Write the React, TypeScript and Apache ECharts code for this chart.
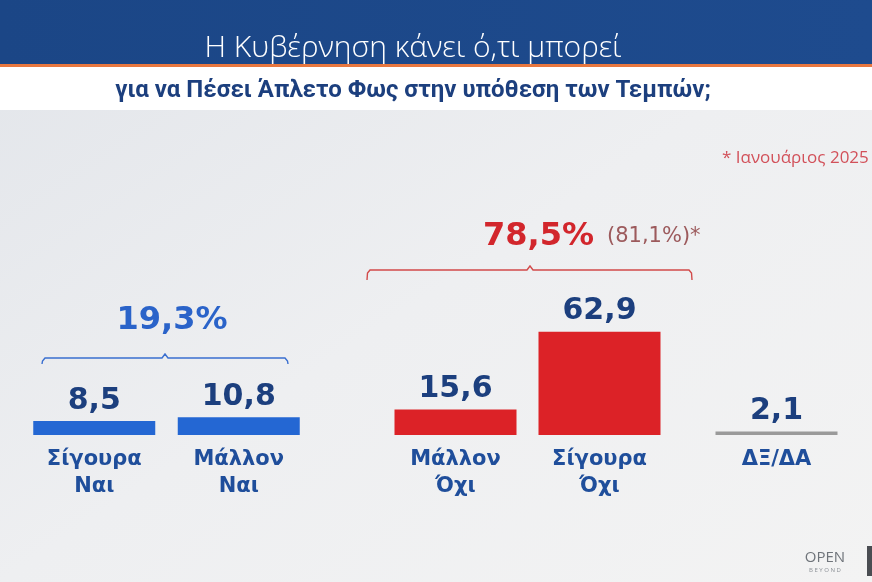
import React, { useEffect, useRef } from "react";
import * as echarts from "echarts";

const categories = ["Σίγουρα\nΝαι", "Μάλλον\nΝαι", "Μάλλον\nΌχι", "Σίγουρα\nΌχι", "ΔΞ/ΔΑ"];
const values = [8.5, 10.8, 15.6, 62.9, 2.1];
const yesTotal = 19.3;
const noTotal = 78.5;
const noTotalJanuary = 81.1;
const titleText = "Η Κυβέρνηση κάνει ό,τι μπορεί";
const subtitleText = "για να Πέσει Άπλετο Φως στην υπόθεση των Τεμπών;";
const noteText = "* Ιανουάριος 2025";

const fmt = (v: number) => v.toFixed(1).replace(".", ",");

const W = 872;
const H = 582;
const NAVY = "#1c3f7e";
const CAT = "#1f4e9b";
const BLUE = "#2467d3";
const RED = "#dc2227";
const GRAY = "#9a9a9a";
const FONT = "'Open Sans', 'Noto Sans', sans-serif";
const WIDE = "'DejaVu Sans', 'Open Sans', sans-serif";

export default function App() {
  const ref = useRef<HTMLDivElement>(null);
  useEffect(() => {
    if (!ref.current) return;
    const chart = echarts.init(ref.current, undefined, { renderer: "svg" });
    const gridBottom = 147;
    const gridHeight = 164;
    const grids = [
      { left: 22, width: 289 },
      { left: 383.5, width: 288 },
      { left: 704.5, width: 144 },
    ].map((g) => ({ ...g, bottom: gridBottom, height: gridHeight }));
    const groups = [
      { cats: categories.slice(0, 2), vals: values.slice(0, 2), color: BLUE },
      { cats: categories.slice(2, 4), vals: values.slice(2, 4), color: RED },
      { cats: categories.slice(4, 5), vals: values.slice(4, 5), color: GRAY },
    ];
    const xAxis = groups.map((g, i) => ({
      type: "category",
      gridIndex: i,
      data: g.cats,
      axisLine: { show: false },
      axisTick: { show: false },
      axisLabel: {
        color: CAT,
        fontSize: 21,
        fontWeight: "bold",
        fontFamily: WIDE,
        lineHeight: 27,
        margin: 9,
        interval: 0,
      },
    }));
    const yAxis = groups.map((_, i) => ({
      type: "value",
      gridIndex: i,
      min: 0,
      max: 100,
      show: false,
      splitLine: { show: false },
    }));
    const series = groups.map((g, i) => ({
      type: "bar",
      xAxisIndex: i,
      yAxisIndex: i,
      data: g.vals,
      barWidth: 122,
      itemStyle: { color: g.color },
      label: {
        show: true,
        position: "top",
        distance: 8,
        color: NAVY,
        fontSize: 30,
        fontWeight: "bold",
        fontFamily: WIDE,
        formatter: (p: any) => fmt(p.value),
      },
    }));

    const bracket = (x1: number, x2: number, xm: number, y: number, drop: number, color: string) => ({
      type: "polyline",
      z: 5,
      shape: {
        points: [
          [x1, y + drop],
          [x1 + 0.5, y + 3],
          [x1 + 3, y],
          [xm - 3, y],
          [xm, y - 4],
          [xm + 3, y],
          [x2 - 3, y],
          [x2 - 0.5, y + 3],
          [x2, y + drop],
        ],
      },
      style: { stroke: color, lineWidth: 1.4, fill: null },
    });

    const option = {
      animation: false,
      grid: grids,
      xAxis,
      yAxis,
      series,
      graphic: [
        {
          type: "rect",
          z: -10,
          shape: { x: 0, y: 0, width: W, height: H },
          style: {
            fill: new echarts.graphic.LinearGradient(0, 0, 1, 1, [
              { offset: 0, color: "#e2e5ea" },
              { offset: 0.5, color: "#eeeff1" },
              { offset: 1, color: "#f3f3f3" },
            ]),
          },
        },
        {
          type: "rect",
          z: -9,
          shape: { x: 0, y: 66, width: W, height: 44 },
          style: { fill: "#ffffff" },
        },
        {
          type: "rect",
          z: -8,
          shape: { x: 0, y: 0, width: W, height: 64 },
          style: {
            fill: new echarts.graphic.LinearGradient(0, 0, 1, 0, [
              { offset: 0, color: "#1b4686" },
              { offset: 1, color: "#1e4b8e" },
            ]),
          },
        },
        {
          type: "rect",
          z: -8,
          shape: { x: 0, y: 64, width: W, height: 3 },
          style: { fill: "#e8773f" },
        },
        {
          type: "text",
          z: 5,
          x: 413,
          y: 45,
          style: {
            text: titleText,
            fill: "#ffffff",
            fontSize: 30,
            fontWeight: 300,
            fontFamily: FONT,
            align: "center",
            verticalAlign: "middle",
          },
        },
        {
          type: "text",
          z: 5,
          x: 413,
          y: 89,
          style: {
            text: subtitleText,
            fill: NAVY,
            fontSize: 24,
            fontWeight: "bold",
            fontFamily: "Roboto, 'Noto Sans', sans-serif",
            align: "center",
            verticalAlign: "middle",
          },
        },
        {
          type: "text",
          z: 5,
          x: 722,
          y: 156,
          style: {
            text: noteText,
            fill: "#d2515a",
            fontSize: 17,
            fontFamily: FONT,
            align: "left",
            verticalAlign: "middle",
          },
        },
        bracket(42, 288, 165, 358, 6, "#3a6fd0"),
        {
          type: "text",
          z: 5,
          x: 172,
          y: 318,
          style: {
            text: fmt(yesTotal) + "%",
            fill: "#2a63c9",
            fontSize: 32,
            fontWeight: "bold",
            fontFamily: WIDE,
            align: "center",
            verticalAlign: "middle",
          },
        },
        bracket(367, 692, 530, 270, 10, "#d24a4a"),
        {
          type: "text",
          z: 5,
          x: 594,
          y: 234,
          style: {
            text: fmt(noTotal) + "%",
            fill: "#d2262c",
            fontSize: 32,
            fontWeight: "bold",
            fontFamily: WIDE,
            align: "right",
            verticalAlign: "middle",
          },
        },
        {
          type: "text",
          z: 5,
          x: 607,
          y: 235,
          style: {
            text: "(" + fmt(noTotalJanuary) + "%)*",
            fill: "#9c5a5c",
            fontSize: 21,
            fontFamily: WIDE,
            align: "left",
            verticalAlign: "middle",
          },
        },
        {
          type: "text",
          z: 5,
          x: 825,
          y: 556,
          style: {
            text: "OPEN",
            fill: "#6f747a",
            fontSize: 15,
            fontFamily: FONT,
            align: "center",
            verticalAlign: "middle",
          },
        },
        {
          type: "text",
          z: 5,
          x: 825,
          y: 570,
          style: {
            text: "B E Y O N D",
            fill: "#8a8f95",
            fontSize: 6,
            fontFamily: FONT,
            align: "center",
            verticalAlign: "middle",
          },
        },
        {
          type: "rect",
          z: 5,
          shape: { x: 867, y: 546, width: 5, height: 30 },
          style: { fill: "#4a4d52" },
        },
      ],
    };
    chart.setOption(option as any);
    return () => chart.dispose();
  }, []);
  return (
    <div
      ref={ref}
      style={{ position: "fixed", left: 0, top: 0, width: W, height: H }}
    />
  );
}
